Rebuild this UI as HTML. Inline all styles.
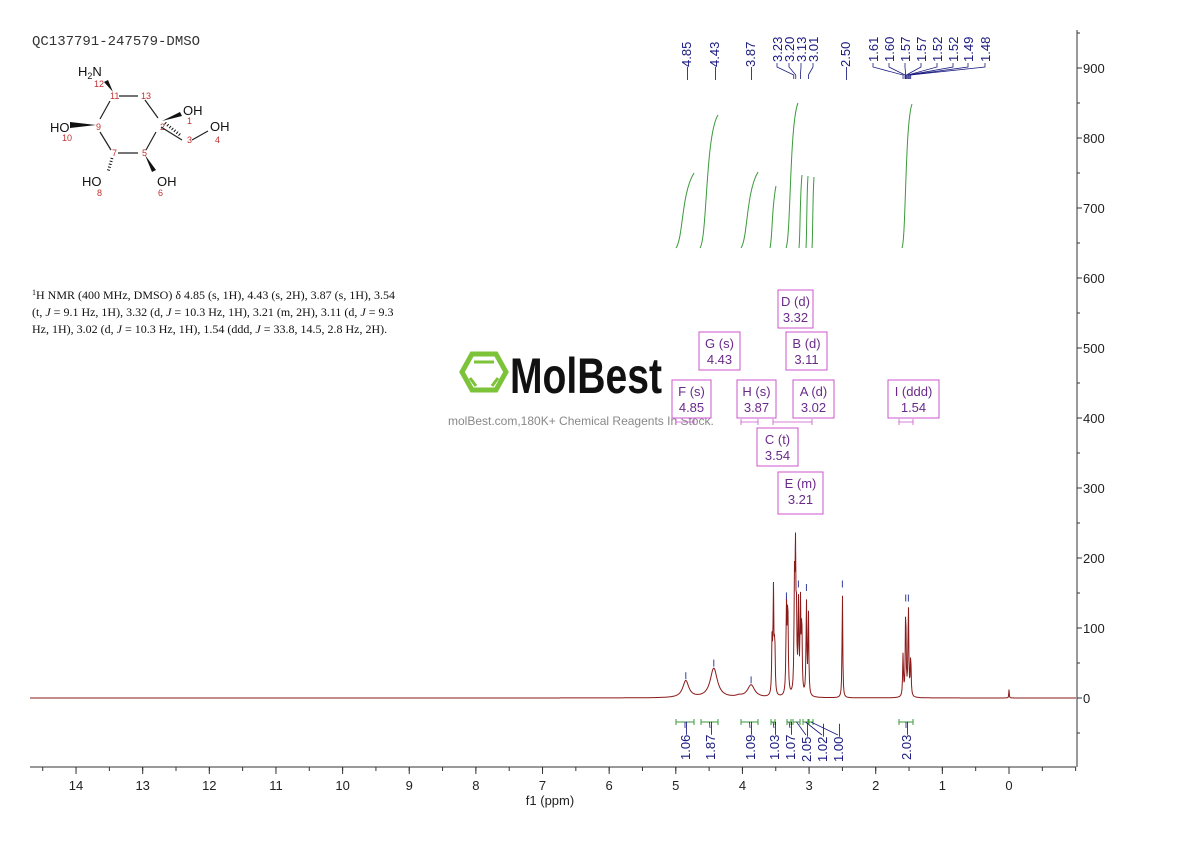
<!DOCTYPE html>
<html><head><meta charset="utf-8"><style>
body{margin:0;background:#fff;width:1190px;height:841px;overflow:hidden}
svg{display:block;font-family:"Liberation Sans",sans-serif}
</style></head><body>
<svg id="s" width="1190" height="841" viewBox="0 0 1190 841" xmlns="http://www.w3.org/2000/svg">
<text x="32" y="45" font-family="Liberation Mono,monospace" font-size="14" fill="#333">QC137791-247579-DMSO</text>
<g font-size="13" fill="#111" stroke="none">
<text x="78" y="76">H<tspan font-size="9" dy="3">2</tspan><tspan dy="-3">N</tspan></text>
<text x="183" y="115">OH</text><text x="210" y="131">OH</text>
<text x="50" y="132">HO</text><text x="82" y="186">HO</text><text x="157" y="186">OH</text>
</g>
<g font-size="9" fill="#c03030">
<text x="94" y="87">12</text><text x="110" y="99">11</text><text x="141" y="99">13</text>
<text x="96" y="130">9</text><text x="160" y="130">2</text><text x="187" y="124">1</text>
<text x="187" y="143">3</text><text x="215" y="143">4</text><text x="62" y="141">10</text>
<text x="112" y="156">7</text><text x="142" y="156">5</text><text x="97" y="196">8</text><text x="158" y="196">6</text>
</g>
<g stroke="#222" stroke-width="1.2" fill="none">
<path d="M119 96L138 96M145 100L158 118M156 132L146 150M138 153L118 153M111 150L100 132M100 119L110 101M161 127L182 140M192 140L208 131"/>
</g>
<path d="M113 92L104 82L108 80Z M96 125L70 122L70 128Z M162 121L180 112L182 116Z M145 155L152 172L156 170Z" fill="#111"/>
<path d="M112 158L108 172M165 123L180 135" stroke="#111" stroke-width="3" stroke-dasharray="1,2" fill="none"/>
<g font-family="Liberation Serif,serif" font-size="12" fill="#111">
<text x="32" y="299"><tspan font-size="8" dy="-4">1</tspan><tspan dy="4">H NMR (400 MHz, DMSO) δ 4.85 (s, 1H), 4.43 (s, 2H), 3.87 (s, 1H), 3.54</tspan></text>
<text x="32" y="316">(t, <tspan font-style="italic">J</tspan> = 9.1 Hz, 1H), 3.32 (d, <tspan font-style="italic">J</tspan> = 10.3 Hz, 1H), 3.21 (m, 2H), 3.11 (d, <tspan font-style="italic">J</tspan> = 9.3</text>
<text x="32" y="333">Hz, 1H), 3.02 (d, <tspan font-style="italic">J</tspan> = 10.3 Hz, 1H), 1.54 (ddd, <tspan font-style="italic">J</tspan> = 33.8, 14.5, 2.8 Hz, 2H).</text>
</g>
<g stroke="#7cc33a" stroke-width="5" fill="none"><path d="M462 372L472 354L496 354L506 372L496 390L472 390Z"/></g>
<path d="M474 362L494 362M470 378L476 386M498 378L492 386" stroke="#7cc33a" stroke-width="3"/>
<text x="510" y="393" font-size="50" font-weight="bold" fill="#111" textLength="152" lengthAdjust="spacingAndGlyphs">MolBest</text>
<text x="448" y="425" font-size="12" fill="#888">molBest.com,180K+ Chemical Reagents In Stock.</text>
<g id="g"></g>
</svg>
<script>
const g=document.getElementById('g');let h='';
const X=p=>1009-66.64*p, Y=v=>698-0.7*v;
h+='<line x1="30" y1="767" x2="1076" y2="767" stroke="#333"/>';
for(let p=14;p>=0;p--){h+=`<line x1="${X(p)}" y1="767" x2="${X(p)}" y2="774" stroke="#333"/><text x="${X(p)}" y="790" font-size="13" text-anchor="middle" fill="#222">${p}</text>`;}
for(let p=14.5;p>=-1;p-=0.5){if(X(p)>30&&X(p)<1076)h+=`<line x1="${X(p)}" y1="767" x2="${X(p)}" y2="771" stroke="#333"/>`;}
h+='<text x="550" y="805" font-size="13" text-anchor="middle" fill="#222">f1 (ppm)</text>';
h+='<line x1="1077" y1="30" x2="1077" y2="767" stroke="#333"/>';
for(let v=-50;v<=950;v+=50){let y=Y(v);if(y<30||y>767)continue;h+=`<line x1="1077" y1="${y}" x2="${v%100==0?1082:1080}" y2="${y}" stroke="#333"/>`;if(v%100==0)h+=`<text x="1083" y="${y+5}" font-size="13" fill="#222">${v}</text>`;}
const pk=[[4.85,24,0.055],[4.43,42,0.065],[3.87,18,0.065],[4.05,2,0.05],[3.555,80,0.007],[3.535,150,0.007],[3.515,80,0.007],[3.34,125,0.008],[3.32,130,0.008],[3.22,150,0.007],[3.205,190,0.007],[3.19,105,0.007],[3.16,130,0.007],[3.13,130,0.007],[3.11,110,0.007],[3.04,135,0.007],[3.01,120,0.007],[2.50,155,0.006],[1.59,60,0.007],[1.55,132,0.007],[1.51,132,0.007],[1.475,60,0.007],[0,12,0.004]];
let d='';for(let x=30;x<=1076;x+=0.5){let p=(1009-x)/66.64,v=0;for(const[c,a,w]of pk){let t=(p-c)/w;v+=a/(1+t*t);}d+=(x==30?'M':'L')+x+' '+Y(v).toFixed(1);}
h+=`<path d="${d}" fill="none" stroke="#8b1a1a" stroke-width="1"/>`;
[[4.85,24],[4.43,42],[3.87,18],[3.535,152],[3.34,138],[3.205,205],[3.16,155],[3.04,150],[2.5,155],[1.55,135],[1.51,135]].forEach(([p,v])=>{h+=`<line x1="${X(p)}" y1="${Y(v)-2}" x2="${X(p)}" y2="${Y(v)-9}" stroke="#3040a0"/>`});
const tl=[[686,'4.85',4.85],[714,'4.43',4.43],[750,'3.87',3.87],[777,'3.23',3.23],[789,'3.20',3.2],[801,'3.13',3.13],[813,'3.01',3.01],[845,'2.50',2.5],[873,'1.61',1.59],[889,'1.60',1.56],[905,'1.57',1.55],[921,'1.57',1.54],[937,'1.52',1.52],[953,'1.52',1.51],[968,'1.49',1.49],[985,'1.48',1.475]];
tl.forEach(([x,t,p])=>{const cl=(x>770&&x!=845);if(!cl){h+=`<text transform="translate(${x+5},80) rotate(-90)" font-size="13" fill="#1a1a80">—${t}</text>`;}else{h+=`<text transform="translate(${x+5},62) rotate(-90)" font-size="13" fill="#1a1a80">${t}</text>`;let tx=X(p);h+=`<polyline points="${x},63 ${x},67 ${tx},75 ${tx},79" fill="none" stroke="#1a1a80" stroke-width="0.8"/>`;}});
[[676,248,694,173],[700,248,718,115],[741,248,758,172],[770,248,776,186],[786,248,798,103],[799,248,802,175],[806,248,808,176],[812,248,814,177],[902,248,912,104]].forEach(([a,b,c,e])=>{h+=`<path d="M${a} ${b}C${a+(c-a)*0.4} ${b-10} ${a+(c-a)*0.3} ${e+20} ${c} ${e}" fill="none" stroke="#3a9a3a"/>`});
[[676,694,'1.06'],[701,718,'1.87'],[741,758,'1.09'],[771,775,'1.03'],[787,791,'1.07'],[793,800,'2.05'],[803,808,'1.02'],[809,813,'1.00'],[899,913,'2.03']].forEach(([a,b,t],i)=>{h+=`<path d="M${a} 719V725M${a} 722H${b}M${b} 719V725" stroke="#3a9a3a"/>`;let lx=[685,710,750,774,790,806,822,838,906][i];h+=`<line x1="${(a+b)/2}" y1="722" x2="${lx}" y2="${i>4&&i<8?735:728}" stroke="#1a1a80" stroke-width="0.8"/><text transform="translate(${lx+5},${i>4&&i<8?762:760}) rotate(-90)" font-size="13" fill="#1a1a80">${t}—</text>`});
[[778,290,35,38,'D (d)','3.32'],[699,332,41,38,'G (s)','4.43'],[786,332,41,38,'B (d)','3.11'],[672,380,39,38,'F (s)','4.85'],[737,380,39,38,'H (s)','3.87'],[793,380,41,38,'A (d)','3.02'],[888,380,51,38,'I (ddd)','1.54'],[757,428,41,38,'C (t)','3.54'],[778,472,45,42,'E (m)','3.21']].forEach(([x,y,w,hh,a,b])=>{h+=`<rect x="${x}" y="${y}" width="${w}" height="${hh}" fill="#fff" stroke="#cc55cc"/><text x="${x+w/2}" y="${y+16}" font-size="13" text-anchor="middle" fill="#6a2a8a">${a}</text><text x="${x+w/2}" y="${y+32}" font-size="13" text-anchor="middle" fill="#6a2a8a">${b}</text>`});
[[676,694],[741,758],[899,913],[773,812]].forEach(([a,b])=>{h+=`<path d="M${a} 422H${b}M${a} 419V425M${b} 419V425" stroke="#cc55cc" stroke-width="0.8"/>`});
g.innerHTML=h;
</script>
</body></html>
